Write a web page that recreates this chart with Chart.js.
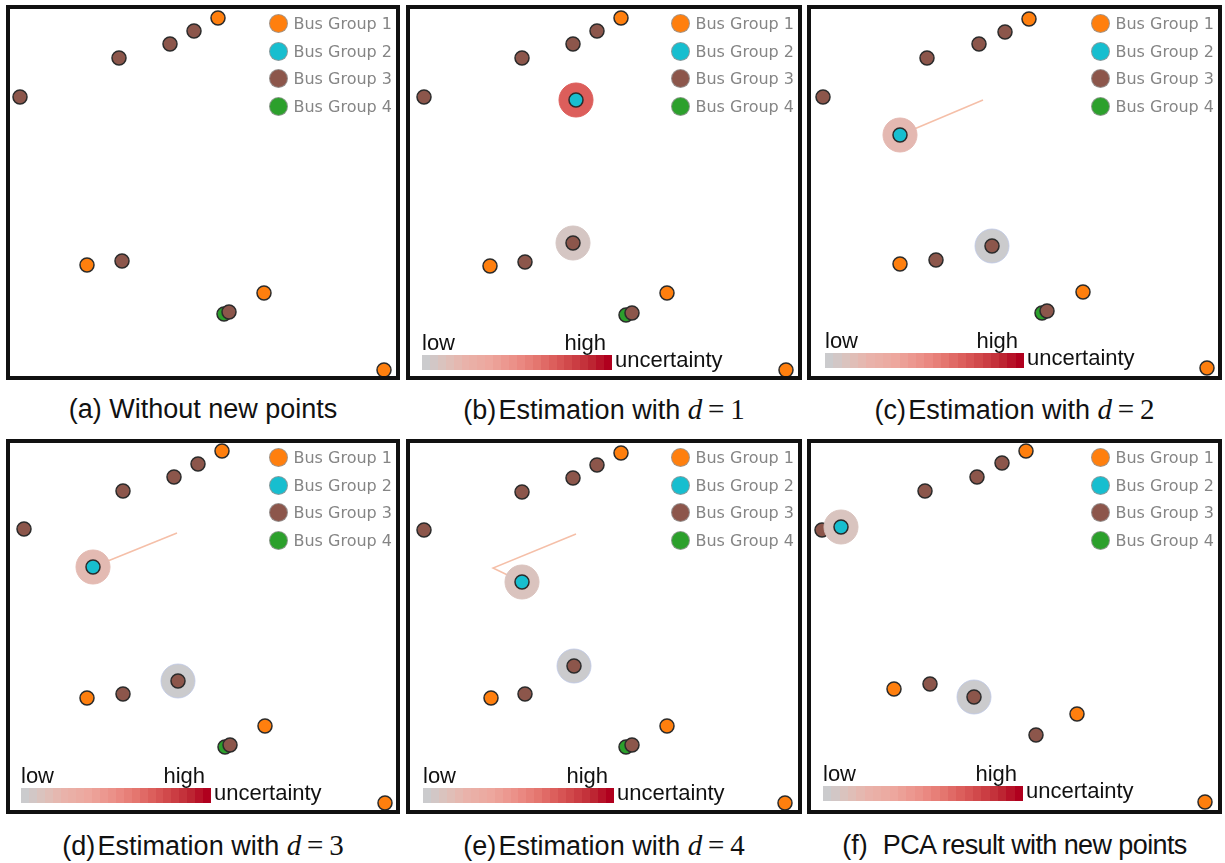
<!DOCTYPE html>
<html lang="en">
<head>
<meta charset="UTF-8">
<title>Uncertainty estimation of new points</title>
<script src="https://cdn.jsdelivr.net/npm/chart.js"></script>
<style>
  body {
    margin: 0;
    background: #fff;
    width: 1225px;
    height: 863px;
    position: relative;
    overflow: hidden;
    font-family: "Liberation Sans", Arial, Helvetica, sans-serif;
  }
  .panel {
    position: absolute;
    border: 4px solid #111;
    box-sizing: border-box;
    background: #fff;
  }
  .panel canvas { position: absolute; left: 0; top: 0; }
  .legend {
    position: absolute;
    right: 4px;
    top: 1px;
    font-family: "DejaVu Sans", Verdana, sans-serif;
    font-size: 16px;
    color: #858585;
  }
  .legend div { height: 27.6px; display: flex; align-items: center; white-space: nowrap; }
  .legend .dot {
    width: 17px; height: 17px; border-radius: 50%;
    border: 1.5px solid rgba(150,150,150,0.85);
    margin-right: 5px;
  }
  .cbar { position: absolute; height: 15px; }
  .cb-label { position: absolute; font-size: 22px; line-height: 22px; color: #111; white-space: nowrap; }
  .caption {
    position: absolute;
    font-size: 27px;
    line-height: 27px;
    color: #111;
    text-align: center;
    white-space: nowrap;
  }
  .caption .m { font-family: "Liberation Serif", "Times New Roman", serif; font-size: 29px; }
</style>
</head>
<body>
<script>
  // legend
  const groupNames = ['Bus Group 1', 'Bus Group 2', 'Bus Group 3', 'Bus Group 4'];
  const groupColors = ['#ff7f0e', '#17becf', '#8c564b', '#2ca02c'];

  // positions, in px from the panel's inner top-left corner
  // (a) without new points
  const aOrange = [[208, 9], [77, 256], [254, 284], [374, 361]];
  const aBrown = [[184, 22], [160, 35], [109, 49], [10, 88], [112, 252], [219, 303]];
  const aGreen = [[214, 305]];

  // (b) d = 1
  const bOrange = [[211, 9], [80, 257], [257, 284], [376, 361]];
  const bBrown = [[187, 22], [163, 35], [112, 49], [14, 88], [115, 253], [222, 304]];
  const bGreen = [[216, 306]];
  const bNewCyan = [[166, 91]];
  const bNewBrown = [[163, 234]];
  const bUncertainty = [0.7, 0.06];   // cyan, brown
  const bTrail = [];

  // (c) d = 2
  const cOrange = [[218, 10], [89, 255], [272, 283], [396, 359]];
  const cBrown = [[194, 23], [168, 35], [116, 49], [12, 88], [125, 251], [236, 302]];
  const cGreen = [[231, 304]];
  const cNewCyan = [[89, 126]];
  const cNewBrown = [[181, 237]];
  const cUncertainty = [0.17, 0];
  const cTrail = [[172, 91], [89, 126]];

  // (d) d = 3
  const dOrange = [[212, 8], [77, 255], [255, 283], [375, 360]];
  const dBrown = [[188, 21], [164, 34], [113, 48], [14, 86], [113, 251], [220, 302]];
  const dGreen = [[215, 304]];
  const dNewCyan = [[83, 124]];
  const dNewBrown = [[168, 238]];
  const dUncertainty = [0.16, 0];
  const dTrail = [[167, 90], [83, 124]];

  // (e) d = 4
  const eOrange = [[211, 10], [81, 255], [257, 283], [375, 360]];
  const eBrown = [[187, 22], [163, 35], [112, 49], [14, 87], [115, 251], [222, 302]];
  const eGreen = [[216, 304]];
  const eNewCyan = [[112, 139]];
  const eNewBrown = [[164, 223]];
  const eUncertainty = [0.09, 0];
  const eTrail = [[166, 91], [83, 125], [112, 139]];

  // (f) PCA result
  const fOrange = [[215, 8], [83, 246], [266, 271], [394, 359]];
  const fBrown = [[191, 20], [166, 34], [114, 48], [11, 87], [119, 241], [225, 292]];
  const fGreen = [];
  const fNewCyan = [[30, 84]];
  const fNewBrown = [[163, 254]];
  const fUncertainty = [0.08, 0];
  const fTrail = [];

  // uncertainty colour scale (low -> high)
  const cmapStops = [
    [0, '#cbcbcd'], [0.1, '#dcc2bc'], [0.2, '#e8b4ac'], [0.35, '#eda79e'],
    [0.5, '#eb8d85'], [0.6, '#e57871'], [0.7, '#dc5e5b'], [0.8, '#cf4448'],
    [0.9, '#bf2a35'], [1, '#b0001e']
  ];

  function hexRgb(h) {
    return [parseInt(h.substr(1, 2), 16), parseInt(h.substr(3, 2), 16), parseInt(h.substr(5, 2), 16)];
  }

  function cmap(t) {
    for (let i = 1; i < cmapStops.length; i++) {
      if (t <= cmapStops[i][0]) {
        const a = cmapStops[i - 1], b = cmapStops[i];
        const f = (t - a[0]) / (b[0] - a[0]);
        const ca = hexRgb(a[1]), cb = hexRgb(b[1]);
        const c = ca.map((v, k) => Math.round(v + (cb[k] - v) * f));
        return 'rgb(' + c.join(',') + ')';
      }
    }
    return cmapStops[cmapStops.length - 1][1];
  }

  const panels = [
    { left: 6, top: 5, w: 394, h: 375, orange: aOrange, brown: aBrown, green: aGreen,
      cyanNew: [], brownNew: [], unc: [], trail: [], bar: null,
      caption: '(a) Without new points', capTop: 396 },
    { left: 406, top: 5, w: 396, h: 375, orange: bOrange, brown: bBrown, green: bGreen,
      cyanNew: bNewCyan, brownNew: bNewBrown, unc: bUncertainty, trail: bTrail, bar: { x: 12, y: 346, w: 190 },
      caption: '(b)&#8202;Estimation with <i class="m">d</i><span class="m">&#8201;=&#8201;1</span>', capTop: 396 },
    { left: 807, top: 5, w: 415, h: 375, orange: cOrange, brown: cBrown, green: cGreen,
      cyanNew: cNewCyan, brownNew: cNewBrown, unc: cUncertainty, trail: cTrail, bar: { x: 14, y: 344, w: 199 },
      caption: '(c)&#8202;Estimation with <i class="m">d</i><span class="m">&#8201;=&#8201;2</span>', capTop: 396 },
    { left: 6, top: 439, w: 394, h: 375, orange: dOrange, brown: dBrown, green: dGreen,
      cyanNew: dNewCyan, brownNew: dNewBrown, unc: dUncertainty, trail: dTrail, bar: { x: 11, y: 345, w: 190 },
      caption: '(d)&#8202;Estimation with <i class="m">d</i><span class="m">&#8201;=&#8201;3</span>', capTop: 832 },
    { left: 406, top: 439, w: 396, h: 375, orange: eOrange, brown: eBrown, green: eGreen,
      cyanNew: eNewCyan, brownNew: eNewBrown, unc: eUncertainty, trail: eTrail, bar: { x: 13, y: 345, w: 191 },
      caption: '(e)&#8202;Estimation with <i class="m">d</i><span class="m">&#8201;=&#8201;4</span>', capTop: 832 },
    { left: 807, top: 439, w: 415, h: 375, orange: fOrange, brown: fBrown, green: fGreen,
      cyanNew: fNewCyan, brownNew: fNewBrown, unc: fUncertainty, trail: fTrail, bar: { x: 12, y: 343, w: 200 },
      caption: '(f)&nbsp; <span style="letter-spacing:-0.6px">PCA result with new points</span>', capTop: 832 }
  ];

  function pts(arr) {
    return arr.map(p => ({ x: p[0], y: p[1] }));
  }

  const dotStyle = {
    pointRadius: 7,
    pointHoverRadius: 7,
    borderWidth: 1.5,
    borderColor: '#2b2b2b',
    clip: false
  };

  panels.forEach(function (p) {
    const innerW = p.w - 8, innerH = p.h - 8;

    const div = document.createElement('div');
    div.className = 'panel';
    div.style.left = p.left + 'px';
    div.style.top = p.top + 'px';
    div.style.width = p.w + 'px';
    div.style.height = p.h + 'px';
    document.body.appendChild(div);

    const canvas = document.createElement('canvas');
    canvas.width = innerW;
    canvas.height = innerH;
    canvas.style.width = innerW + 'px';
    canvas.style.height = innerH + 'px';
    div.appendChild(canvas);

    const datasets = [];
    if (p.trail.length) {
      datasets.push({
        label: 'trail', data: pts(p.trail), showLine: true, borderColor: '#f5bfa8',
        borderWidth: 1.5, pointRadius: 0, fill: false, order: 6, clip: false
      });
    }
    datasets.push(Object.assign({ label: groupNames[3], data: pts(p.green), backgroundColor: groupColors[3], order: 5 }, dotStyle));
    datasets.push(Object.assign({ label: groupNames[2], data: pts(p.brown), backgroundColor: groupColors[2], order: 4 }, dotStyle));
    datasets.push(Object.assign({ label: groupNames[0], data: pts(p.orange), backgroundColor: groupColors[0], order: 4 }, dotStyle));
    if (p.cyanNew.length) {
      datasets.push({
        label: 'uncertainty', data: pts(p.cyanNew.concat(p.brownNew)),
        pointRadius: 17, pointHoverRadius: 17,
        backgroundColor: p.unc.map(cmap),
        borderWidth: 1, borderColor: p.unc.map(u => u < 0.02 ? 'rgba(190,200,230,0.8)' : cmap(u)),
        order: 3, clip: false
      });
      datasets.push(Object.assign({ label: groupNames[2] + ' new', data: pts(p.brownNew), backgroundColor: groupColors[2], order: 2 }, dotStyle));
      datasets.push(Object.assign({ label: groupNames[1], data: pts(p.cyanNew), backgroundColor: groupColors[1], order: 1 }, dotStyle));
    }

    new Chart(canvas.getContext('2d'), {
      type: 'scatter',
      data: { datasets: datasets },
      options: {
        responsive: false,
        animation: false,
        layout: { padding: 0, autoPadding: false },
        scales: {
          x: { type: 'linear', display: false, min: 0, max: innerW },
          y: { type: 'linear', display: false, min: 0, max: innerH, reverse: true }
        },
        plugins: {
          legend: { display: false },
          tooltip: { enabled: false }
        }
      }
    });

    // legend box in the top right corner
    const legend = document.createElement('div');
    legend.className = 'legend';
    groupNames.forEach(function (name, i) {
      const row = document.createElement('div');
      row.innerHTML = '<span class="dot" style="background:' + groupColors[i] + '"></span>' + name;
      legend.appendChild(row);
    });
    div.appendChild(legend);

    // uncertainty colour bar
    if (p.bar) {
      const steps = 24;
      const parts = [];
      for (let i = 0; i < steps; i++) {
        const c = cmap(i / (steps - 1));
        parts.push(c + ' ' + (i / steps * 100) + '%', c + ' ' + ((i + 1) / steps * 100) + '%');
      }
      const bar = document.createElement('div');
      bar.className = 'cbar';
      bar.style.left = p.bar.x + 'px';
      bar.style.top = p.bar.y + 'px';
      bar.style.width = p.bar.w + 'px';
      bar.style.background = 'linear-gradient(to right, ' + parts.join(', ') + ')';
      div.appendChild(bar);

      const low = document.createElement('span');
      low.className = 'cb-label';
      low.textContent = 'low';
      low.style.left = p.bar.x + 'px';
      low.style.top = (p.bar.y - 23) + 'px';
      div.appendChild(low);

      const high = document.createElement('span');
      high.className = 'cb-label';
      high.textContent = 'high';
      high.style.left = (p.bar.x + p.bar.w - 6) + 'px';
      high.style.transform = 'translateX(-100%)';
      high.style.top = (p.bar.y - 23) + 'px';
      div.appendChild(high);

      const unc = document.createElement('span');
      unc.className = 'cb-label';
      unc.textContent = 'uncertainty';
      unc.style.left = (p.bar.x + p.bar.w + 3) + 'px';
      unc.style.top = (p.bar.y - 6) + 'px';
      div.appendChild(unc);
    }

    const cap = document.createElement('div');
    cap.className = 'caption';
    cap.style.left = p.left + 'px';
    cap.style.width = p.w + 'px';
    cap.style.top = p.capTop + 'px';
    cap.innerHTML = p.caption;
    document.body.appendChild(cap);
  });
</script>
</body>
</html>
